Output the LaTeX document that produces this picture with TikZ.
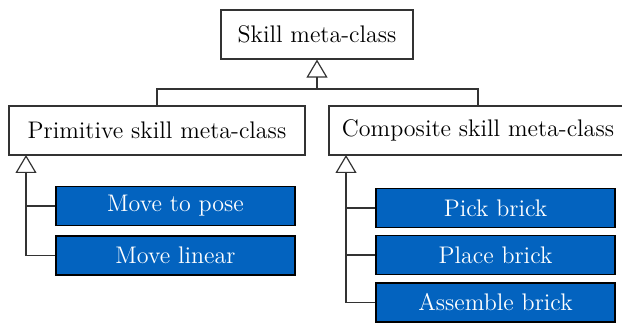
\documentclass[tikz,border=0pt]{standalone}
\usetikzlibrary{arrows.meta}

\definecolor{skillblue}{RGB}{3,99,191}

\tikzset{every picture/.style={line width=0.6pt}}
\tikzset{
    metabox/.style={draw=black!80, fill=white, font=\large, inner sep=0pt},
    skillbox/.style={draw=black, fill=skillblue, text=white, font=\large, inner sep=0pt, minimum width=119.5pt, minimum height=19.5pt},
    inherit/.style={-{Triangle[open, width=10.5pt, length=9pt]}}
}

\begin{document}
\begin{tikzpicture}[x=0.5pt,y=0.5pt,yscale=-1,xscale=1]
    \useasboundingbox (0,0) rectangle (622,326); %diagram is 622 wide, 326 high

    % Meta-class Nodes
    \node [metabox, minimum width=96pt, minimum height=24.5pt] (skill) at (317,34.5) {Skill meta-class};
    \node [metabox, minimum width=148pt, minimum height=24.5pt] (prim) at (157,130.5) {Primitive skill meta-class};
    \node [metabox, minimum width=149pt, minimum height=24.5pt] (comp) at (478,130.5) {Composite skill meta-class};

    % Skill Nodes
    \node [skillbox] (pose) at (175.5,206) {Move to pose};
    \node [skillbox] (linear) at (175.5,255.5) {Move linear};
    \node [skillbox] (pick) at (495.5,208) {Pick brick};
    \node [skillbox] (place) at (495.5,255) {Place brick};
    \node [skillbox] (assemble) at (495.5,302.5) {Assemble brick};

    % Joints
    \coordinate (join) at (317,89);
    \coordinate (ptip) at (26,155);
    \coordinate (ctip) at (346,155);

    % Generalisation Lines
    \draw [black!80] (prim.north) |- (join) -| (comp.north);
    \draw [black!80, inherit] (join) -- (skill.south);

    \draw [black!80, inherit] (linear.west) -| (ptip);
    \draw [black!80] (pose.west) -- (pose.west -| ptip);

    \draw [black!80, inherit] (assemble.west) -| (ctip);
    \draw [black!80] (pick.west) -- (pick.west -| ctip);
    \draw [black!80] (place.west) -- (place.west -| ctip);
\end{tikzpicture}
\end{document}
